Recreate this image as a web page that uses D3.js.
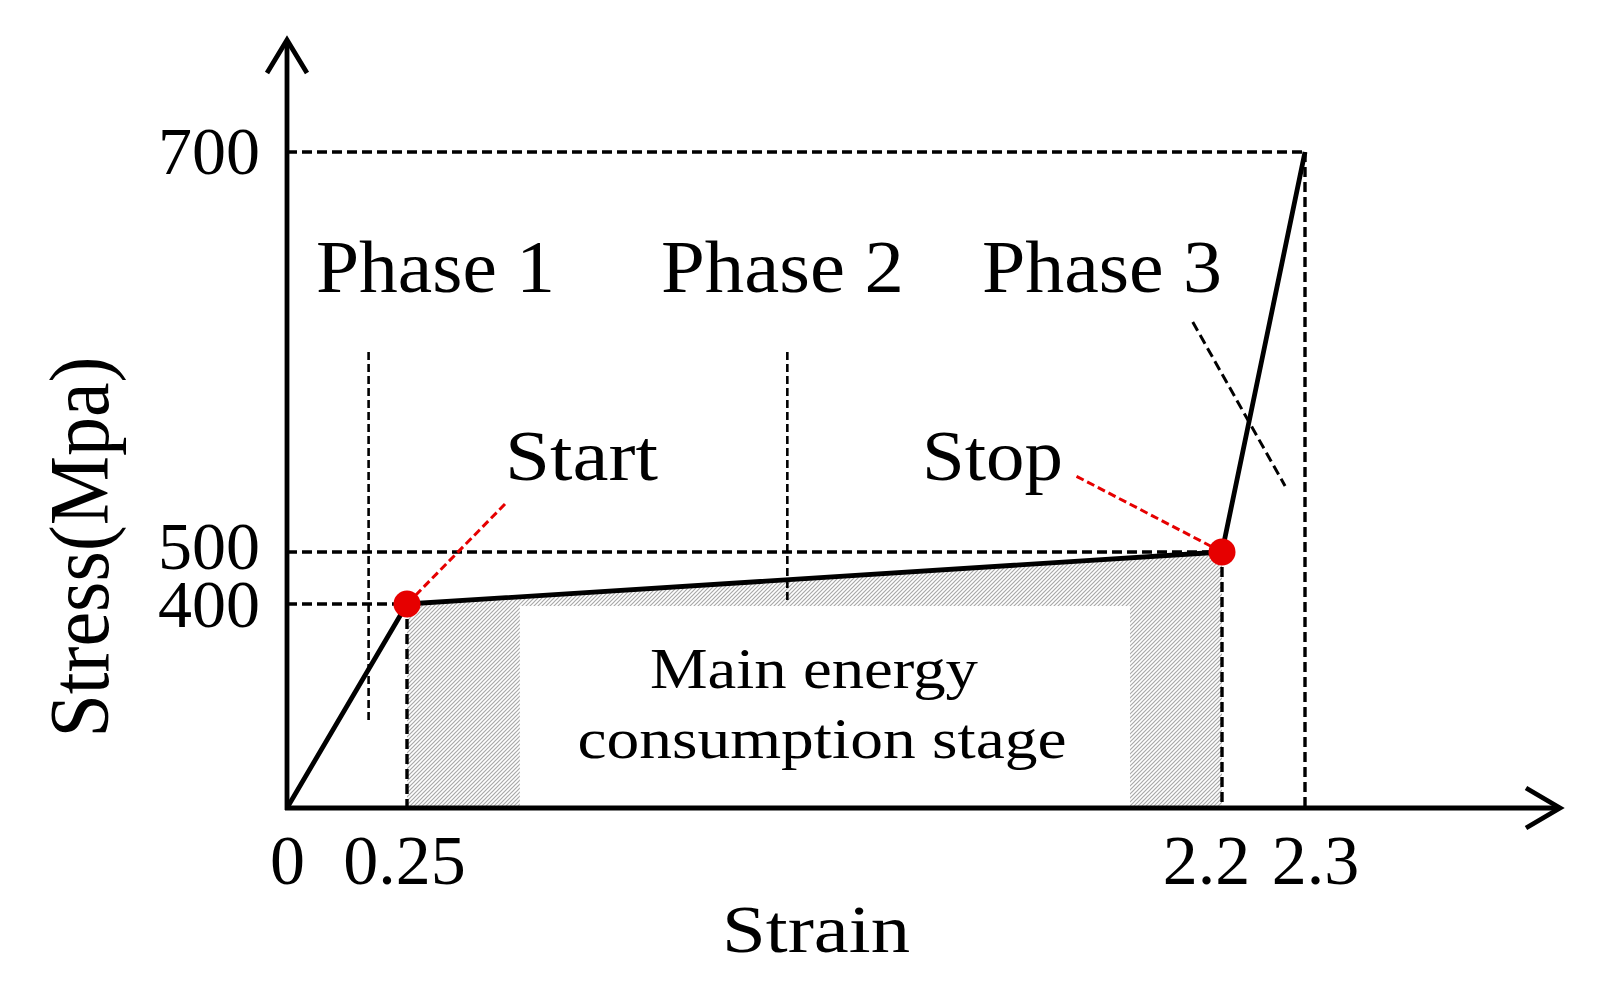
<!DOCTYPE html>
<html>
<head>
<meta charset="utf-8">
<script src="https://cdn.jsdelivr.net/npm/d3@7"></script>
<style>
  body { margin: 0; background: #fff; }
  text { font-family: "Liberation Serif", "Times New Roman", serif; fill: #000; }
</style>
</head>
<body>
<div id="chart"></div>
<script>
// Stress-strain curve (schematic, piecewise scale)
var strain = [0, 0.25, 2.2, 2.3];
var stress = [0, 400, 500, 700];

// Tick labels
var xTicks = [0, 0.25, 2.2, 2.3];
var yTicks = [400, 500, 700];

// Start / stop points of the main energy stage
var markNames = ["Start", "Stop"];
var markStrain = [0.25, 2.2];
var markStress = [400, 500];

// Phase boundaries (dashed vertical lines)
var phaseNames = ["Phase 1", "Phase 2", "Phase 3"];
var phaseBounds = [0.17, 1.16];
var phaseTop = [600, 600];
var phaseBottom = [170, 400];

// White label box inside the hatched stage
var stageText = ["Main energy", "consumption stage"];
var stageStrain = [0.52, 1.98];
var stageStress = [0, 396];

// Slash mark across the last segment
var cutStrain = [2.13, 2.276];
var cutStress = [615, 533];

var width = 1599, height = 988;

var svg = d3.select("#chart")
  .append("svg")
    .attr("width", width)
    .attr("height", height);

// piecewise linear scales, the picture is not to scale
var x = d3.scaleLinear().domain(strain).range([287, 407, 1222, 1305]);
var y = d3.scaleLinear().domain(stress).range([808, 604, 552, 152]);

// hatch pattern
var defs = svg.append("defs");
defs.append("pattern")
    .attr("id", "hatch")
    .attr("patternUnits", "userSpaceOnUse")
    .attr("width", 4)
    .attr("height", 4)
  .append("path")
    .attr("d", "M-1,1 l2,-2 M0,4 l4,-4 M3,5 l2,-2")
    .attr("stroke", "#a8a8a8")
    .attr("stroke-width", 1.2);

var pts = strain.map(function(s, i) { return {s: s, p: stress[i]}; });

// hatched area under the curve between start and stop
var stagePts = pts.filter(function(d) { return d.s >= markStrain[0] && d.s <= markStrain[1]; });
svg.append("path")
    .datum(stagePts)
    .attr("fill", "url(#hatch)")
    .attr("d", d3.area()
        .x(function(d) { return x(d.s); })
        .y0(y(0))
        .y1(function(d) { return y(d.p); }));

svg.append("rect")
    .attr("x", x(stageStrain[0]))
    .attr("y", y(stageStress[1]))
    .attr("width", x(stageStrain[1]) - x(stageStrain[0]))
    .attr("height", y(stageStress[0]) - y(stageStress[1]))
    .attr("fill", "#fff");

// dashed guide lines to the axes
var guides = svg.append("g")
    .attr("stroke", "#000")
    .attr("stroke-width", 3.4)
    .attr("stroke-dasharray", "10,5")
    .attr("fill", "none");
pts.slice(1).forEach(function(d) {
  guides.append("line")
      .attr("x1", x(0)).attr("y1", y(d.p))
      .attr("x2", x(d.s)).attr("y2", y(d.p));
  guides.append("line")
      .attr("x1", x(d.s)).attr("y1", y(d.p))
      .attr("x2", x(d.s)).attr("y2", y(0));
});

// phase boundaries
phaseBounds.forEach(function(b, i) {
  svg.append("line")
      .attr("x1", x(b)).attr("y1", y(phaseTop[i]))
      .attr("x2", x(b)).attr("y2", y(phaseBottom[i]))
      .attr("stroke", "#000")
      .attr("stroke-width", 2.6)
      .attr("stroke-dasharray", "8,4");
});

svg.append("line")
    .attr("x1", x(cutStrain[0])).attr("y1", y(cutStress[0]))
    .attr("x2", x(cutStrain[1])).attr("y2", y(cutStress[1]))
    .attr("stroke", "#000")
    .attr("stroke-width", 3)
    .attr("stroke-dasharray", "10,5");

// axes with arrows
var axisLines = svg.append("g")
    .attr("stroke", "#000")
    .attr("stroke-width", 4.8)
    .attr("fill", "none");
axisLines.append("path").attr("d", "M" + x(0) + "," + (y(0) + 2) + "V40");
axisLines.append("path").attr("d", "M" + (x(0) - 2) + "," + y(0) + "H1560");
axisLines.append("path").attr("d", "M" + (x(0) - 20) + ",73L" + x(0) + ",40L" + (x(0) + 20) + ",73");
axisLines.append("path").attr("d", "M1526," + (y(0) - 20) + "L1560," + y(0) + "L1526," + (y(0) + 20));

var xAxis = svg.append("g")
    .attr("transform", "translate(0," + y(0) + ")")
    .call(d3.axisBottom(x).tickValues(xTicks).tickSize(0).tickPadding(26)
        .tickFormat(function(d) { return String(d); }));
xAxis.attr("font-size", 70);
xAxis.select(".domain").remove();
xAxis.selectAll(".tick text")
    .attr("dx", function(d) { return d === 2.2 ? -16 : d === 2.3 ? 10 : d === 0.25 ? -3 : 0; });

var yAxis = svg.append("g")
    .attr("transform", "translate(" + x(0) + ",0)")
    .call(d3.axisLeft(y).tickValues(yTicks).tickSize(0).tickPadding(27));
yAxis.attr("font-size", 68);
yAxis.select(".domain").remove();
yAxis.selectAll(".tick text")
    .attr("y", function(d) { return d === 500 ? -5 : d === 400 ? 1 : 0; });

// the curve
svg.append("path")
    .datum(pts)
    .attr("fill", "none")
    .attr("stroke", "#000")
    .attr("stroke-width", 4.8)
    .attr("stroke-linejoin", "round")
    .attr("d", d3.line()
        .x(function(d) { return x(d.s); })
        .y(function(d) { return y(d.p); }));

// red leaders and points
var leaderEnds = [[506, 503], [1074, 475]];
markNames.forEach(function(name, i) {
  svg.append("line")
      .attr("x1", x(markStrain[i])).attr("y1", y(markStress[i]))
      .attr("x2", leaderEnds[i][0]).attr("y2", leaderEnds[i][1])
      .attr("stroke", "#e60000")
      .attr("stroke-width", 3)
      .attr("stroke-dasharray", "8,4");
});
svg.selectAll(".mark")
    .data(markNames)
    .enter()
    .append("circle")
    .attr("cx", function(d, i) { return x(markStrain[i]); })
    .attr("cy", function(d, i) { return y(markStress[i]); })
    .attr("r", 13.5)
    .attr("fill", "#e60000");

// text labels
function label(t, px, py, size, len, anchor) {
  return svg.append("text")
      .attr("x", px)
      .attr("y", py)
      .attr("font-size", size)
      .attr("text-anchor", anchor || "start")
      .attr("textLength", len)
      .attr("lengthAdjust", "spacingAndGlyphs")
      .text(t);
}

label(phaseNames[0], 316, 292, 75, 239);
label(phaseNames[1], 661, 292, 75, 243);
label(phaseNames[2], 982, 292, 75, 240);

label(markNames[0], 505, 480, 71, 153);
label(markNames[1], 922, 480, 72, 141);

label(stageText[0], 814, 688, 56, 328, "middle");
label(stageText[1], 822, 758, 56, 489, "middle");

label("Strain", 816, 952, 68, 188, "middle");

svg.append("text")
    .attr("transform", "translate(108,547) rotate(-90)")
    .attr("text-anchor", "middle")
    .attr("font-size", 84)
    .attr("textLength", 381)
    .attr("lengthAdjust", "spacingAndGlyphs")
    .text("Stress(Mpa)");
</script>
</body>
</html>
